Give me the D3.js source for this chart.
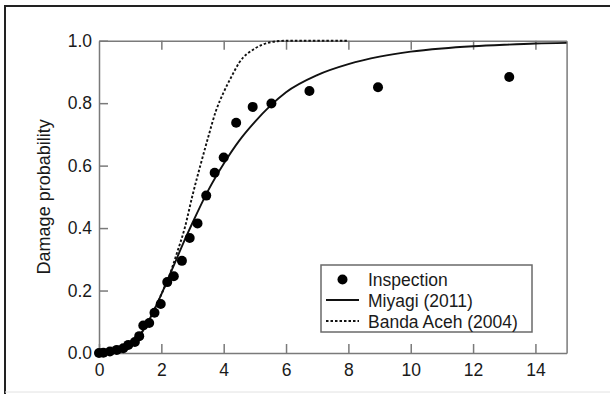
<!DOCTYPE html>
<html lang="en">
<head>
    <meta charset="UTF-8">
    <title>Damage probability</title>
    <script src="https://d3js.org/d3.v7.min.js"></script>
    <style>
        body { margin: 0; background: #fff; font-family: "Liberation Sans", Arial, sans-serif; overflow: hidden; }
        .axis path, .axis line { stroke: #7a7a7a; stroke-width: 1.5px; }
        .axis text { font-size: 17.5px; fill: #1a1a1a; font-family: "Liberation Sans", Arial, sans-serif; }
        .legend text { font-size: 17.5px; fill: #1a1a1a; }
    </style>
</head>
<body>
    <div id="chart"></div>
    <script>
        // inspection points (inundation depth, damage probability)
        const inspX = [0, 0.14, 0.35, 0.57, 0.78, 0.94, 1.15, 1.29, 1.42, 1.61, 1.78, 1.98, 2.19, 2.4, 2.66, 2.91, 3.16, 3.44, 3.71, 4.0, 4.4, 4.93, 5.53, 6.75, 8.95, 13.16];
        const inspY = [0, 0.001, 0.005, 0.01, 0.015, 0.026, 0.035, 0.054, 0.088, 0.096, 0.129, 0.157, 0.227, 0.246, 0.295, 0.368, 0.415, 0.504, 0.577, 0.626, 0.737, 0.788, 0.799, 0.839, 0.851, 0.884];

        // Miyagi (2011) curve
        const miyagiX = [0, 0.5, 0.75, 1, 1.25, 1.5, 1.75, 2, 2.25, 2.5, 2.75, 3, 3.5, 4, 4.5, 5, 5.5, 6, 7, 8, 9, 10, 11, 12, 13, 14, 15];
        const miyagiY = [0, 0.001, 0.006, 0.021, 0.048, 0.086, 0.134, 0.188, 0.246, 0.304, 0.362, 0.417, 0.52, 0.606, 0.68, 0.74, 0.792, 0.835, 0.89, 0.925, 0.949, 0.965, 0.975, 0.982, 0.987, 0.991, 0.993];

        // Banda Aceh (2004) curve
        const bandaX = [1, 1.5, 2, 2.25, 2.5, 2.75, 3, 3.25, 3.5, 3.75, 4, 4.25, 4.5, 5, 5.5, 6, 7, 8];
        const bandaY = [0.021, 0.086, 0.188, 0.246, 0.32, 0.4, 0.505, 0.6, 0.69, 0.775, 0.835, 0.885, 0.93, 0.975, 0.995, 1, 1, 1];

        const xTicks = [0, 2, 4, 6, 8, 10, 12, 14];
        const yTicks = [0, 0.2, 0.4, 0.6, 0.8, 1.0];
        const legendLabels = ["Inspection", "Miyagi (2011)", "Banda Aceh (2004)"];

        const width = 610, height = 394;
        const margin = { top: 40.7, right: 43.4, bottom: 41, left: 99 };

        const svg = d3.select("#chart").append("svg")
            .attr("width", width)
            .attr("height", height);

        // outer frame of the figure
        svg.append("line").attr("x1", 5).attr("x2", 5).attr("y1", 6).attr("y2", height)
            .attr("stroke", "#222").attr("stroke-width", 2);
        svg.append("line").attr("x1", 4).attr("x2", width).attr("y1", 6).attr("y2", 6)
            .attr("stroke", "#222").attr("stroke-width", 2);
        svg.append("line").attr("x1", 5).attr("x2", width).attr("y1", 392).attr("y2", 392)
            .attr("stroke", "#e2e2e2").attr("stroke-width", 1);

        const xScale = d3.scaleLinear().domain([0, 15]).range([margin.left, width - margin.right]);
        const yScale = d3.scaleLinear().domain([0, 1]).range([height - margin.bottom, margin.top]);

        // axes, ticks pointing inward
        svg.append("g")
            .attr("class", "axis")
            .attr("transform", `translate(0, ${yScale(0)})`)
            .call(d3.axisBottom(xScale).tickValues(xTicks).tickSize(-9).tickPadding(11).tickSizeOuter(0));

        svg.append("g")
            .attr("class", "axis")
            .attr("transform", `translate(0, ${yScale(1)})`)
            .call(d3.axisTop(xScale).tickValues(xTicks.slice(1)).tickSize(-9).tickSizeOuter(0).tickFormat(""));

        svg.append("g")
            .attr("class", "axis")
            .attr("transform", `translate(${xScale(0)}, 0)`)
            .call(d3.axisLeft(yScale).tickValues(yTicks).tickSize(-9).tickPadding(7).tickSizeOuter(0).tickFormat(d3.format(".1f")));

        svg.append("g")
            .attr("class", "axis")
            .attr("transform", `translate(${xScale(15)}, 0)`)
            .call(d3.axisRight(yScale).tickValues([]).tickSizeOuter(0));

        svg.append("text")
            .attr("transform", `translate(45, ${(yScale(0) + yScale(1)) / 2}) rotate(-90)`)
            .attr("text-anchor", "middle")
            .attr("dominant-baseline", "middle")
            .style("font-size", "18px")
            .style("fill", "#1a1a1a")
            .text("Damage probability");

        const line = d3.line()
            .x(d => xScale(d[0]))
            .y(d => yScale(d[1]))
            .curve(d3.curveMonotoneX);

        svg.append("path")
            .datum(bandaX.map((x, i) => [x, bandaY[i]]))
            .attr("d", line)
            .attr("fill", "none")
            .attr("stroke", "#111")
            .attr("stroke-width", 1.9)
            .attr("stroke-dasharray", "2.5,2");

        svg.append("path")
            .datum(miyagiX.map((x, i) => [x, miyagiY[i]]))
            .attr("d", line)
            .attr("fill", "none")
            .attr("stroke", "#111")
            .attr("stroke-width", 1.9);

        svg.selectAll(".dot")
            .data(inspX.map((x, i) => [x, inspY[i]]))
            .enter().append("circle")
            .attr("class", "dot")
            .attr("cx", d => xScale(d[0]))
            .attr("cy", d => yScale(d[1]))
            .attr("r", 5)
            .attr("fill", "#000");

        // legend
        const legend = svg.append("g").attr("class", "legend").attr("transform", "translate(321, 265)");
        legend.append("rect")
            .attr("width", 211).attr("height", 67)
            .attr("fill", "#fff").attr("stroke", "#6a6a6a").attr("stroke-width", 1.5);

        legend.append("circle").attr("cx", 21.5).attr("cy", 14.5).attr("r", 5).attr("fill", "#000");
        legend.append("line").attr("x1", 5).attr("x2", 38).attr("y1", 35).attr("y2", 35)
            .attr("stroke", "#111").attr("stroke-width", 1.9);
        legend.append("line").attr("x1", 5).attr("x2", 38).attr("y1", 56).attr("y2", 56)
            .attr("stroke", "#111").attr("stroke-width", 1.9).attr("stroke-dasharray", "2.5,2");

        legend.selectAll("text.item")
            .data(legendLabels)
            .enter().append("text")
            .attr("class", "item")
            .attr("x", 47)
            .attr("y", (d, i) => 14.5 + i * 21)
            .attr("dy", "0.36em")
            .text(d => d);
    </script>
</body>
</html>
